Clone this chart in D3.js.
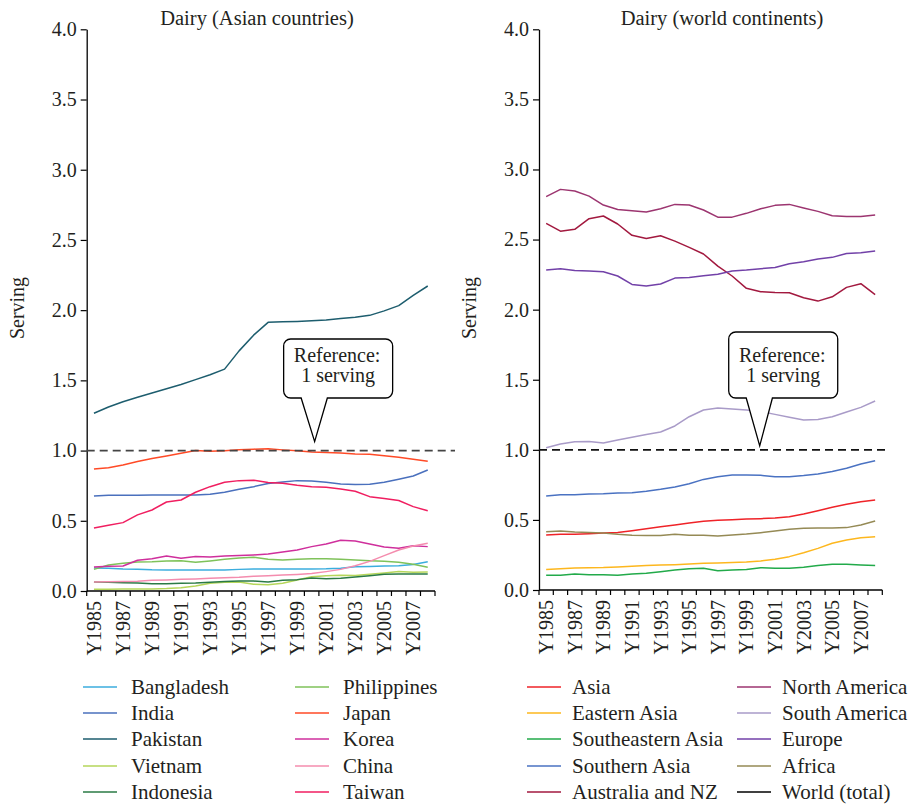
<!DOCTYPE html>
<html>
<head>
<meta charset="utf-8">
<script src="https://cdn.jsdelivr.net/npm/d3@7"></script>
<style>
  html, body { margin: 0; padding: 0; background: #fff; }
  svg text { font-family: "Liberation Serif", "DejaVu Serif", serif; fill: #231f20; }
</style>
</head>
<body>
<svg id="chart" width="916" height="807"></svg>
<script>
// ---- categories and tick labels ----
const years = [1985, 1986, 1987, 1988, 1989, 1990, 1991, 1992, 1993, 1994, 1995, 1996,
               1997, 1998, 1999, 2000, 2001, 2002, 2003, 2004, 2005, 2006, 2007, 2008];
const xTickYears = [1985, 1987, 1989, 1991, 1993, 1995, 1997, 1999, 2001, 2003, 2005, 2007];
const yTicks = [0, 0.5, 1.0, 1.5, 2.0, 2.5, 3.0, 3.5, 4.0];
const referenceServing = 1;

// ---- Asian countries (servings of dairy per day) ----
const bangladesh  = [0.164, 0.162, 0.157, 0.155, 0.151, 0.150, 0.150, 0.150, 0.150, 0.150, 0.154, 0.157,
                     0.157, 0.157, 0.157, 0.157, 0.158, 0.162, 0.173, 0.175, 0.178, 0.180, 0.188, 0.209];
const india       = [0.677, 0.682, 0.682, 0.682, 0.683, 0.683, 0.683, 0.684, 0.689, 0.703, 0.724, 0.743,
                     0.765, 0.777, 0.786, 0.784, 0.774, 0.762, 0.758, 0.760, 0.774, 0.796, 0.819, 0.862];
const pakistan    = [1.266, 1.310, 1.348, 1.380, 1.410, 1.440, 1.470, 1.505, 1.540, 1.580, 1.710, 1.822,
                     1.913, 1.917, 1.920, 1.924, 1.930, 1.940, 1.950, 1.963, 1.995, 2.032, 2.105, 2.172];
const vietnam     = [0.012, 0.012, 0.014, 0.014, 0.014, 0.017, 0.024, 0.036, 0.055, 0.062, 0.064, 0.048,
                     0.045, 0.055, 0.078, 0.102, 0.109, 0.112, 0.110, 0.119, 0.128, 0.138, 0.133, 0.135];
const indonesia   = [0.064, 0.062, 0.059, 0.057, 0.052, 0.052, 0.055, 0.057, 0.062, 0.067, 0.071, 0.071,
                     0.064, 0.076, 0.081, 0.093, 0.088, 0.090, 0.100, 0.109, 0.119, 0.121, 0.121, 0.121];
const philippines = [0.154, 0.185, 0.197, 0.207, 0.209, 0.214, 0.216, 0.204, 0.214, 0.226, 0.235, 0.240,
                     0.226, 0.221, 0.226, 0.230, 0.230, 0.226, 0.221, 0.216, 0.211, 0.204, 0.190, 0.169];
const japan       = [0.869, 0.877, 0.898, 0.922, 0.943, 0.962, 0.981, 1.000, 0.995, 0.998, 1.005, 1.010,
                     1.013, 1.005, 0.998, 0.990, 0.986, 0.982, 0.976, 0.973, 0.964, 0.952, 0.938, 0.924];
const korea       = [0.171, 0.176, 0.178, 0.219, 0.230, 0.249, 0.233, 0.245, 0.242, 0.249, 0.252, 0.257,
                     0.264, 0.278, 0.292, 0.316, 0.335, 0.361, 0.356, 0.335, 0.314, 0.304, 0.323, 0.316];
const china       = [0.064, 0.066, 0.068, 0.070, 0.076, 0.079, 0.083, 0.086, 0.090, 0.094, 0.098, 0.105,
                     0.109, 0.114, 0.118, 0.124, 0.138, 0.154, 0.180, 0.211, 0.252, 0.292, 0.321, 0.340];
const taiwan      = [0.449, 0.468, 0.487, 0.542, 0.577, 0.634, 0.648, 0.703, 0.743, 0.774, 0.786, 0.789,
                     0.772, 0.767, 0.753, 0.743, 0.739, 0.727, 0.710, 0.672, 0.658, 0.644, 0.601, 0.572];

// ---- world regions ----
const asia          = [0.392, 0.397, 0.397, 0.402, 0.407, 0.411, 0.423, 0.437, 0.452, 0.464, 0.478, 0.490,
                       0.497, 0.502, 0.506, 0.509, 0.514, 0.523, 0.542, 0.566, 0.590, 0.611, 0.630, 0.642];
const easternAsia   = [0.147, 0.152, 0.157, 0.159, 0.160, 0.164, 0.169, 0.174, 0.178, 0.181, 0.186, 0.190,
                       0.193, 0.196, 0.200, 0.207, 0.219, 0.238, 0.266, 0.297, 0.333, 0.357, 0.373, 0.380];
const southeastAsia = [0.105, 0.105, 0.114, 0.109, 0.109, 0.105, 0.114, 0.119, 0.131, 0.143, 0.152, 0.155,
                       0.138, 0.143, 0.147, 0.159, 0.155, 0.155, 0.162, 0.174, 0.183, 0.183, 0.178, 0.174];
const southernAsia  = [0.670, 0.680, 0.680, 0.685, 0.687, 0.692, 0.694, 0.704, 0.718, 0.735, 0.758, 0.789,
                       0.808, 0.820, 0.820, 0.818, 0.808, 0.808, 0.816, 0.827, 0.846, 0.868, 0.899, 0.922];
const australiaNZ   = [2.615, 2.560, 2.573, 2.649, 2.668, 2.611, 2.530, 2.508, 2.527, 2.489, 2.444, 2.397,
                       2.311, 2.240, 2.152, 2.128, 2.123, 2.121, 2.085, 2.061, 2.092, 2.159, 2.185, 2.107];
const northAmerica  = [2.806, 2.858, 2.846, 2.810, 2.746, 2.715, 2.706, 2.696, 2.720, 2.751, 2.746, 2.711,
                       2.660, 2.660, 2.687, 2.720, 2.744, 2.751, 2.725, 2.701, 2.670, 2.665, 2.665, 2.675];
const southAmerica  = [1.015, 1.041, 1.058, 1.060, 1.049, 1.070, 1.089, 1.110, 1.127, 1.170, 1.236, 1.284,
                       1.298, 1.291, 1.284, 1.274, 1.253, 1.232, 1.213, 1.217, 1.236, 1.270, 1.303, 1.348];
const europe        = [2.282, 2.292, 2.280, 2.275, 2.270, 2.240, 2.180, 2.168, 2.183, 2.225, 2.230, 2.242,
                       2.252, 2.275, 2.282, 2.292, 2.301, 2.328, 2.342, 2.361, 2.373, 2.401, 2.406, 2.418];
const africa        = [0.416, 0.421, 0.414, 0.411, 0.407, 0.397, 0.390, 0.388, 0.388, 0.397, 0.390, 0.390,
                       0.385, 0.392, 0.399, 0.409, 0.421, 0.433, 0.440, 0.442, 0.442, 0.445, 0.464, 0.492];
const worldTotal    = [];   // listed in the key; no plotted values

// series definitions: name, values, colour, legend column, legend row
const asianSeries = [
  { name: "Bangladesh",  values: bangladesh,  color: "#3badde", col: 0, row: 0 },
  { name: "India",       values: india,       color: "#4a70bd", col: 0, row: 1 },
  { name: "Pakistan",    values: pakistan,    color: "#1d5d6e", col: 0, row: 2 },
  { name: "Vietnam",     values: vietnam,     color: "#b5d65a", col: 0, row: 3 },
  { name: "Indonesia",   values: indonesia,   color: "#2a7a45", col: 0, row: 4 },
  { name: "Philippines", values: philippines, color: "#7fc25a", col: 1, row: 0 },
  { name: "Japan",       values: japan,       color: "#ff4a26", col: 1, row: 1 },
  { name: "Korea",       values: korea,       color: "#cf2f9c", col: 1, row: 2 },
  { name: "China",       values: china,       color: "#f48cae", col: 1, row: 3 },
  { name: "Taiwan",      values: taiwan,      color: "#f01e60", col: 1, row: 4 }
];
const regionSeries = [
  { name: "Asia",              values: asia,          color: "#ef2328", col: 0, row: 0 },
  { name: "Eastern Asia",      values: easternAsia,   color: "#fdb71e", col: 0, row: 1 },
  { name: "Southeastern Asia", values: southeastAsia, color: "#22aa4a", col: 0, row: 2 },
  { name: "Southern Asia",     values: southernAsia,  color: "#4a72c2", col: 0, row: 3 },
  { name: "Australia and NZ",  values: australiaNZ,   color: "#a2193f", col: 0, row: 4 },
  { name: "North America",     values: northAmerica,  color: "#9c3570", col: 1, row: 0 },
  { name: "South America",     values: southAmerica,  color: "#a99bc8", col: 1, row: 1 },
  { name: "Europe",            values: europe,        color: "#7241a8", col: 1, row: 2 },
  { name: "Africa",            values: africa,        color: "#958a55", col: 1, row: 3 },
  { name: "World (total)",     values: worldTotal,    color: "#000000", col: 1, row: 4 }
];

const svg = d3.select("#chart");
const SERIF = '"Liberation Serif", "DejaVu Serif", serif';
const FONT = 20;

function drawPanel(cfg) {
  const g = svg.append("g").attr("font-family", SERIF);
  const x = d3.scaleBand().domain(years).range([cfg.left, cfg.right]).padding(0);
  const y = d3.scaleLinear().domain([0, 4]).range([cfg.bottom, cfg.top]);
  const cx = d => x(d) + x.bandwidth() / 2;

  // title
  g.append("text")
    .attr("x", cfg.titleX).attr("y", 25)
    .attr("text-anchor", "middle")
    .style("font-size", "20.5px")
    .text(cfg.title);

  // y axis
  const yAxis = d3.axisLeft(y)
    .tickValues(yTicks)
    .tickFormat(d3.format(".1f"))
    .tickSize(6).tickSizeOuter(0).tickPadding(4);
  const ya = g.append("g").attr("transform", `translate(${cfg.left},0)`).call(yAxis)
    .attr("font-family", SERIF).attr("font-size", FONT);
  ya.select(".domain").attr("stroke", "#000").attr("stroke-width", 1.3);
  ya.selectAll(".tick line").attr("stroke", "#000").attr("stroke-width", 1.2);
  ya.selectAll(".tick text")
    .style("font-family", SERIF)
    .style("font-size", FONT + "px").attr("fill", "#231f20");

  // y axis title
  g.append("text")
    .attr("transform", `translate(${cfg.yTitleX},${cfg.yTitleY}) rotate(-90)`)
    .attr("text-anchor", "middle")
    .style("font-size", FONT + "px")
    .text("Serving");

  // x axis: tick marks sit on category boundaries
  const xa = g.append("g").attr("transform", `translate(0,${cfg.bottom})`);
  xa.append("line")
    .attr("x1", cfg.left).attr("x2", cfg.right)
    .attr("stroke", "#000").attr("stroke-width", 1.3);
  const edges = years.map(d => x(d)).concat([x(years[years.length - 1]) + x.bandwidth()]);
  xa.selectAll("line.tk").data(edges).join("line")
    .attr("class", "tk")
    .attr("x1", d => d).attr("x2", d => d)
    .attr("y1", 0).attr("y2", 5)
    .attr("stroke", "#000").attr("stroke-width", 1.2);
  xa.selectAll("text").data(xTickYears).join("text")
    .attr("transform", d => `translate(${cx(d)},10) rotate(-90)`)
    .attr("text-anchor", "end")
    .attr("dy", "0.35em")
    .style("font-family", SERIF)
    .style("font-size", FONT + "px")
    .text(d => "Y" + d);

  // series lines
  const line = d3.line()
    .x((v, i) => cx(years[i]))
    .y(v => y(v))
    .curve(d3.curveLinear);
  g.selectAll("path.series")
    .data(cfg.series.filter(s => s.values.length))
    .join("path")
    .attr("class", "series")
    .attr("fill", "none")
    .attr("stroke", d => d.color)
    .attr("stroke-width", 1.5)
    .attr("stroke-linejoin", "round")
    .attr("d", d => line(d.values));

  // reference line at one serving
  const ry = y(referenceServing);
  g.append("line")
    .attr("x1", cfg.left).attr("x2", cfg.refEnd)
    .attr("y1", ry).attr("y2", ry)
    .attr("stroke", cfg.refColor)
    .attr("stroke-width", 1.8)
    .attr("stroke-dasharray", "8,5");

  // callout pointing at the reference line
  const tipX = cx(2000) + cfg.tipShift, tipY = ry - cfg.tipGap;
  const bx = tipX - 31, bw = 109, by = cfg.boxTop, bb = 398, r = 7;
  const p1 = tipX - 13.5, p2 = tipX + 12.7;
  const path = d3.path();
  path.moveTo(bx + r, by);
  path.lineTo(bx + bw - r, by);
  path.arcTo(bx + bw, by, bx + bw, by + r, r);
  path.lineTo(bx + bw, bb - r);
  path.arcTo(bx + bw, bb, bx + bw - r, bb, r);
  path.lineTo(p2, bb);
  path.lineTo(tipX, tipY);
  path.lineTo(p1, bb);
  path.lineTo(bx + r, bb);
  path.arcTo(bx, bb, bx, bb - r, r);
  path.lineTo(bx, by + r);
  path.arcTo(bx, by, bx + r, by, r);
  path.closePath();
  g.append("path")
    .attr("d", path.toString())
    .attr("fill", "#fff")
    .attr("stroke", "#000")
    .attr("stroke-width", 1.3);
  g.append("text")
    .attr("x", bx + bw / 2 - 1).attr("y", bb - 36)
    .attr("text-anchor", "middle")
    .style("font-size", FONT + "px")
    .text("Reference:");
  g.append("text")
    .attr("x", bx + bw / 2).attr("y", bb - 16)
    .attr("text-anchor", "middle")
    .style("font-size", FONT + "px")
    .text("1 serving");

  // legend
  const rows = [687, 713, 739, 766, 792];
  const lg = g.append("g");
  const items = lg.selectAll("g").data(cfg.series).join("g")
    .attr("transform", d => `translate(0,${rows[d.row]})`);
  items.append("line")
    .attr("x1", d => cfg.legendCols[d.col])
    .attr("x2", d => cfg.legendCols[d.col] + 34)
    .attr("stroke", d => d.color)
    .attr("stroke-width", 1.5);
  items.append("text")
    .attr("x", d => cfg.legendCols[d.col] + cfg.legendGap)
    .attr("dy", "0.33em")
    .style("font-size", "21px")
    .text(d => d.name);
}

drawPanel({
  title: "Dairy (Asian countries)", titleX: 257,
  left: 86.7, right: 435, top: 29.3, bottom: 591,
  yTitleX: 24, yTitleY: 308,
  refEnd: 455, refColor: "#444", tipShift: 3, tipGap: 9, boxTop: 339,
  series: asianSeries, legendCols: [83, 295], legendGap: 48
});
drawPanel({
  title: "Dairy (world continents)", titleX: 722,
  left: 539, right: 882.3, top: 29.3, bottom: 590,
  yTitleX: 476, yTitleY: 308,
  refEnd: 887, refColor: "#111", tipShift: -1, tipGap: 4, boxTop: 332,
  series: regionSeries, legendCols: [527, 737], legendGap: 45
});
</script>
</body>
</html>
